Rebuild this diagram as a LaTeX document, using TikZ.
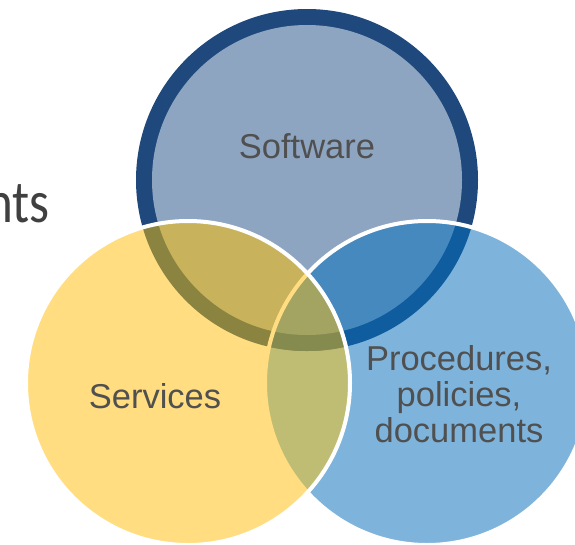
\documentclass[tikz,border=0pt]{standalone}
\usepackage{fontspec}
\setmainfont{Liberation Sans}
\newfontfamily\slidefont{Carlito}
\definecolor{swring}{RGB}{31,73,125}
\definecolor{swfill}{RGB}{142,165,193}
\definecolor{prfill}{RGB}{126,180,220}
\definecolor{swprring}{RGB}{15,93,158}
\definecolor{swprfill}{RGB}{69,137,191}
\definecolor{svfill}{RGB}{255,221,128}
\definecolor{svswring}{RGB}{139,131,64}
\definecolor{svswfill}{RGB}{200,178,92}
\definecolor{svprfill}{RGB}{191,189,115}
\definecolor{allring}{RGB}{133,138,78}
\definecolor{allfill}{RGB}{163,164,98}
\definecolor{labelgray}{RGB}{80,80,80}
\definecolor{slidegray}{RGB}{64,64,64}

\begin{document}
\begin{tikzpicture}[x=1pt,y=-1pt,
    label/.style={inner sep=0pt, text=labelgray, font=\fontsize{34.5}{36}\selectfont},
    border/.style={white, line width=4pt}]
    \useasboundingbox (0,0) rectangle (575,544);
    \coordinate (sw) at (307,180);
    \coordinate (sv) at (188,383);
    \coordinate (pr) at (427,383);
    % software
    \fill[swring] (sw) circle (171);
    \fill[swfill] (sw) circle (155);
    % procedures
    \fill[prfill] (pr) circle (162);
    \begin{scope}
        \clip (pr) circle (162);
        \fill[swprring] (sw) circle (171);
        \fill[swprfill] (sw) circle (155);
    \end{scope}
    \draw[border] (pr) circle (162);
    % services
    \fill[svfill] (sv) circle (162);
    \begin{scope}
        \clip (sv) circle (162);
        \fill[svprfill] (pr) circle (162);
        \fill[svswring] (sw) circle (171);
        \fill[svswfill] (sw) circle (155);
        \begin{scope}
            \clip (pr) circle (162);
            \fill[allring] (sw) circle (171);
            \fill[allfill] (sw) circle (155);
        \end{scope}
        \draw[svfill, line width=4pt] (pr) circle (162);
    \end{scope}
    \draw[border] (sv) circle (162);

    \node[label, anchor=base] (software) at (307,158) {Software};
    \node[label, anchor=base] (services) at (155,408) {Services};
    \node[label, anchor=north, align=center] (procedures) at (459,345) {Procedures,\\policies,\\documents};
    \node[anchor=base east, inner sep=0pt, text=slidegray] (nts) at (50,222)
        {\scalebox{0.85}[1]{\slidefont\fontsize{60}{60}\selectfont nts}};
\end{tikzpicture}
\end{document}
